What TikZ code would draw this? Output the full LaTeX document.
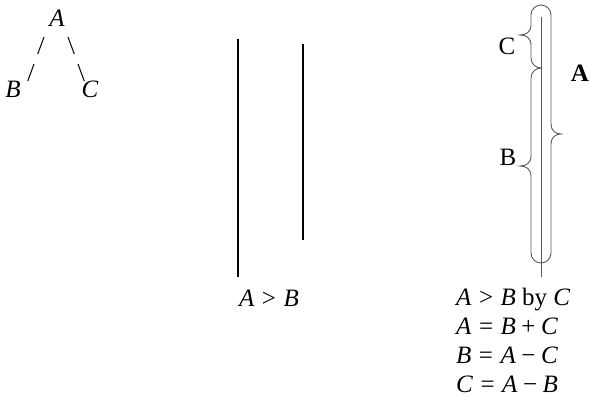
\documentclass[tikz,border=0pt]{standalone}
\usepackage{fontspec}
\setmainfont{Liberation Serif}
\newcommand{\myrel}[1]{\hspace{0.3em}#1\hspace{0.3em}}
\newcommand{\mybin}[1]{\hspace{0.22em}#1\hspace{0.22em}}
\begin{document}
\begin{tikzpicture}[x=1pt,y=-1pt,
  lbl/.style={font=\fontsize{25}{29}\selectfont, inner sep=0pt},
  bar/.style={line width=1.3pt, black},
  outline/.style={line width=0.9pt, black!65},
  treeedge/.style={line width=1pt, dash pattern=on 18pt off 11pt}]
\useasboundingbox (0,0) rectangle (590,416);

% tree
\node[lbl] (tA) at (57,18) {\textit{A}};
\node[lbl] (tB) at (13,89) {\textit{B}};
\node[lbl] (tC) at (90,89) {\textit{C}};
\coordinate (ab1) at (44,37);
\coordinate (ab2) at (27,83);
\coordinate (ac1) at (68,37);
\coordinate (ac2) at (85,83);
\draw[treeedge] (ab1) -- (ab2);
\draw[treeedge] (ac1) -- (ac2);

% two bars
\draw[bar] (238,39) -- (238,277);
\draw[bar] (303,44) -- (303,240);
\node[lbl, anchor=base] (gt) at (269,306) {\textit{A}\myrel{>}\textit{B}};

% capsule
\draw[outline] (541,17) -- (541,277);
\draw[outline]
  (551,17) -- (551,124)
  .. controls (551,131) and (556,134) .. (561,134)
  .. controls (556,134) and (551,137) .. (551,144)
  -- (551,253)
  arc[start angle=0, end angle=180, radius=10]
  -- (531,176)
  .. controls (531,169) and (526,166) .. (520,166)
  .. controls (526,166) and (531,163) .. (531,156)
  -- (531,78)
  .. controls (531,72) and (536,68) .. (541,68)
  .. controls (536,68) and (531,64) .. (531,58)
  -- (531,45)
  .. controls (531,38) and (526,35) .. (520,35)
  .. controls (526,35) and (531,32) .. (531,25)
  -- (531,15)
  arc[start angle=180, end angle=360, radius=10]
  -- cycle;
\node[lbl] (lC) at (507,46) {C};
\node[lbl] (lB) at (508,157) {B};
\node[lbl] (lA) at (580,73) {\textbf{A}};

\node[lbl, anchor=north west, align=left] (eqs) at (456,288)
  {\textit{A}\myrel{>}\textit{B} by \textit{C}\\
   \textit{A}\myrel{=}\textit{B}\mybin{+}\textit{C}\\
   \textit{B}\myrel{=}\textit{A}\mybin{−}\textit{C}\\
   \textit{C}\myrel{=}\textit{A}\mybin{−}\textit{B}};
\end{tikzpicture}
\end{document}
